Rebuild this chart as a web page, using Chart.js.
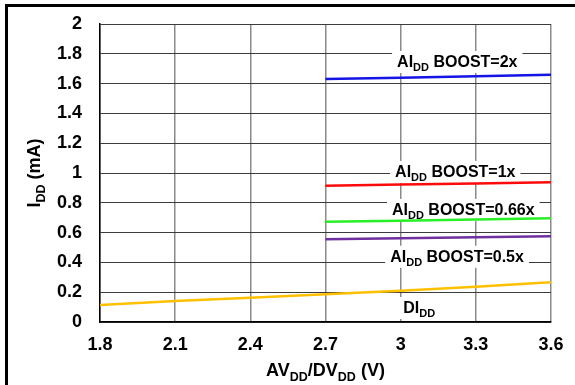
<!DOCTYPE html>
<html>
<head>
<meta charset="utf-8">
<script src="https://cdn.jsdelivr.net/npm/chart.js@4.4.0/dist/chart.umd.min.js"></script>
<style>
  html, body { margin: 0; padding: 0; background: #fff; }
  #wrap { position: relative; width: 575px; height: 385px; }
</style>
</head>
<body>
<div id="wrap"><canvas id="c" width="575" height="385"></canvas></div>
<script>
// ---- data ----
const voltages = [1.8, 2.1, 2.4, 2.7, 3.0, 3.3, 3.6];
const boost2x   = [null, null, null, 1.631, 1.640, 1.650, 1.660];
const boost1x   = [null, null, null, 0.915, 0.923, 0.930, 0.938];
const boost066x = [null, null, null, 0.673, 0.680, 0.688, 0.696];
const boost05x  = [null, null, null, 0.555, 0.562, 0.568, 0.575];
const didd      = [0.114, 0.141, 0.163, 0.186, 0.210, 0.237, 0.266];
const xTicks = [1.8, 2.1, 2.4, 2.7, 3.0, 3.3, 3.6];
const yTicks = [0, 0.2, 0.4, 0.6, 0.8, 1.0, 1.2, 1.4, 1.6, 1.8, 2.0];

// text labels: parts with subscript flags
const seriesLabels = [
  [['AI', false], ['DD', true], [' BOOST=2x', false]],
  [['AI', false], ['DD', true], [' BOOST=1x', false]],
  [['AI', false], ['DD', true], [' BOOST=0.66x', false]],
  [['AI', false], ['DD', true], [' BOOST=0.5x', false]],
  [['DI', false], ['DD', true]]
];
const xTitle = [['AV', false], ['DD', true], ['/DV', false], ['DD', true], [' (V)', false]];
const yTitle = [['I', false], ['DD', true], [' (mA)', false]];

// label anchor points (data coordinates) – layout only
const labelAnchors = [
  {x: 3.226, y: 1.745},
  {x: 3.218, y: 1.007},
  {x: 3.250, y: 0.752},
  {x: 3.225, y: 0.438},
  {x: 3.074, y: 0.094}
];

const FAMILY = "'Liberation Sans', Arial, sans-serif";

function toPts(ys) {
  const out = [];
  voltages.forEach((v, i) => { if (ys[i] !== null) out.push({x: v, y: ys[i]}); });
  return out;
}

function measureParts(ctx, parts, size, subSize) {
  let w = 0;
  parts.forEach(([t, sub]) => {
    ctx.font = 'bold ' + (sub ? subSize : size) + 'px ' + FAMILY;
    w += ctx.measureText(t).width;
  });
  return w;
}
function drawParts(ctx, parts, x, y, size, subSize, subDrop) {
  ctx.textBaseline = 'alphabetic';
  ctx.textAlign = 'left';
  parts.forEach(([t, sub]) => {
    ctx.font = 'bold ' + (sub ? subSize : size) + 'px ' + FAMILY;
    ctx.fillText(t, x, sub ? y + subDrop : y);
    x += ctx.measureText(t).width;
  });
}

const decor = {
  id: 'decor',
  beforeDraw(chart) {
    const ctx = chart.ctx;
    ctx.save();
    ctx.fillStyle = '#fff';
    ctx.fillRect(0, 0, chart.width, chart.height);
    ctx.fillStyle = '#000';
    ctx.fillRect(5, 4, chart.width, 3);
    ctx.fillRect(5, 4, 3, chart.height);
    ctx.restore();
  },
  beforeDatasetsDraw(chart) {
    const ctx = chart.ctx;
    const xs = chart.scales.x, ys = chart.scales.y;
    ctx.save();
    seriesLabels.forEach((parts, i) => {
      const a = labelAnchors[i];
      const cx = xs.getPixelForValue(a.x);
      const cy = ys.getPixelForValue(a.y);
      const w = measureParts(ctx, parts, 16, 11);
      ctx.fillStyle = '#fff';
      ctx.fillRect(cx - w / 2 - 5, cy - 11, w + 10, 22);
    });
    ctx.restore();
  },
  afterDatasetsDraw(chart) {
    const ctx = chart.ctx;
    const xs = chart.scales.x, ys = chart.scales.y;
    ctx.save();
    ctx.fillStyle = '#000';
    seriesLabels.forEach((parts, i) => {
      const a = labelAnchors[i];
      const cx = xs.getPixelForValue(a.x);
      const cy = ys.getPixelForValue(a.y);
      const w = measureParts(ctx, parts, 16, 11);
      drawParts(ctx, parts, cx - w / 2, cy + 5.5, 16, 11, 4);
    });
    const area = chart.chartArea;
    const xw = measureParts(ctx, xTitle, 18, 12.5);
    drawParts(ctx, xTitle, (area.left + area.right) / 2 - xw / 2, 376, 18, 12.5, 4.5);
    const yw = measureParts(ctx, yTitle, 18, 12.5);
    ctx.translate(40, (area.top + area.bottom) / 2);
    ctx.rotate(-Math.PI / 2);
    drawParts(ctx, yTitle, -yw / 2, 0, 18, 12.5, 4.5);
    ctx.restore();
  }
};

const lineDs = (label, ys, color) => ({
  label, data: toPts(ys), borderColor: color, backgroundColor: color,
  borderWidth: 2.5, pointRadius: 0, fill: false, tension: 0
});

new Chart(document.getElementById('c'), {
  type: 'line',
  data: {
    datasets: [
      lineDs('AIDD BOOST=2x', boost2x, '#1414e6'),
      lineDs('AIDD BOOST=1x', boost1x, '#ff0a0a'),
      lineDs('AIDD BOOST=0.66x', boost066x, '#28f028'),
      lineDs('AIDD BOOST=0.5x', boost05x, '#7030a0'),
      lineDs('DIDD', didd, '#ffc000')
    ]
  },
  options: {
    responsive: false,
    animation: false,
    events: [],
    layout: { padding: { left: 0, right: 24, top: 24, bottom: 0 } },
    plugins: { legend: { display: false }, tooltip: { enabled: false } },
    scales: {
      x: {
        type: 'linear', min: 1.8, max: 3.6,
        afterBuildTicks: s => { s.ticks = xTicks.map(v => ({value: v})); },
        afterFit: s => { s.height = 63; s.paddingLeft = 0; s.paddingRight = 0; },
        ticks: { color: '#000', padding: 12, maxRotation: 0,
                 font: { family: FAMILY, size: 18, weight: 'bold' },
                 callback: v => String(+v.toFixed(1)) },
        grid: { color: '#8a8a8a', lineWidth: 1.5, drawTicks: false },
        border: { color: '#000', width: 1.5 }
      },
      y: {
        type: 'linear', min: 0, max: 2,
        afterBuildTicks: s => { s.ticks = yTicks.map(v => ({value: v})); },
        afterFit: s => { s.width = 100; s.paddingTop = 0; s.paddingBottom = 0; },
        ticks: { color: '#000', padding: 18,
                 font: { family: FAMILY, size: 18, weight: 'bold' },
                 callback: v => String(+v.toFixed(1)) },
        grid: { color: '#3c3c3c', lineWidth: 1, drawTicks: false },
        border: { color: '#000', width: 1.5 }
      }
    }
  },
  plugins: [decor]
});
</script>
</body>
</html>
